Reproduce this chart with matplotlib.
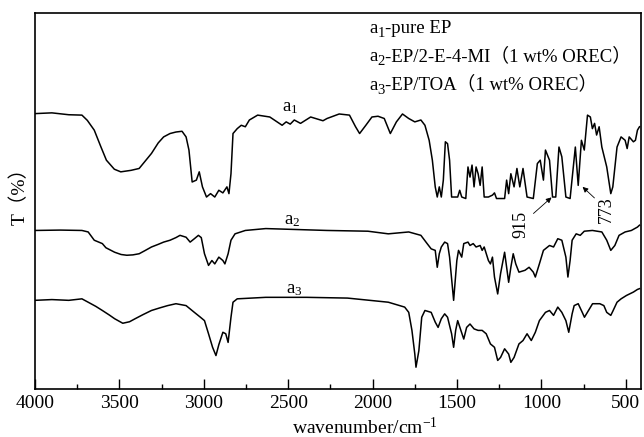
import matplotlib
matplotlib.use("Agg")
import matplotlib.pyplot as plt
from matplotlib.ticker import MultipleLocator

plt.rcParams['font.family'] = ['Liberation Serif', 'Noto Sans CJK SC']
plt.rcParams['mathtext.fontset'] = 'custom'
plt.rcParams['mathtext.rm'] = 'Liberation Serif'
plt.rcParams['mathtext.it'] = 'Liberation Serif'

# a1 - pure EP
wn_a1 = [4000, 3900, 3800, 3722, 3690, 3649, 3610, 3577, 3530, 3492,
         3431, 3383, 3350, 3310, 3270, 3238, 3200, 3165, 3129, 3105,
         3088, 3069, 3044, 3027, 3008, 2984, 2960, 2935, 2911, 2887,
         2863, 2851, 2839, 2827, 2802, 2778, 2754, 2730, 2681, 2609,
         2536, 2512, 2488, 2464, 2427, 2367, 2294, 2270, 2198, 2137,
         2101, 2077, 2040, 2004, 1968, 1931, 1895, 1859, 1823, 1786,
         1750, 1714, 1690, 1665, 1646, 1629, 1617, 1605, 1593, 1581,
         1569, 1556, 1544, 1532, 1496, 1484, 1472, 1448, 1435, 1423,
         1411, 1399, 1387, 1375, 1363, 1351, 1339, 1314, 1290, 1278,
         1266, 1218, 1206, 1194, 1181, 1162, 1145, 1128, 1109, 1085,
         1048, 1024, 1007, 988, 976, 952, 934, 915, 896, 879,
         855, 830, 799, 782, 763, 746, 727, 710, 698, 685,
         673, 658, 642, 613, 589, 577, 552, 528, 504, 492,
         480, 455, 443, 431, 419]
t_a1 = [73.3, 73.5, 73.0, 72.9, 71.5, 68.9, 64.5, 60.9, 58.5, 57.8,
        58.2, 58.7, 60.5, 62.7, 65.5, 67.1, 68.0, 68.4, 68.6, 67.1,
        63.6, 55.1, 55.6, 57.8, 53.8, 51.1, 52.0, 51.1, 52.9, 52.2,
        53.8, 52.0, 57.3, 68.0, 69.3, 70.2, 69.8, 71.6, 72.9, 72.4,
        70.2, 71.1, 70.5, 71.6, 70.7, 72.4, 71.4, 72.0, 73.2, 72.9,
        69.8, 68.0, 70.2, 72.4, 72.6, 72.0, 68.0, 71.1, 73.2, 72.0,
        71.1, 71.6, 70.2, 66.2, 60.9, 53.8, 51.1, 53.8, 51.1, 55.6,
        65.8, 65.3, 60.9, 51.1, 51.1, 52.9, 51.1, 50.7, 59.1, 56.4,
        59.6, 53.8, 59.1, 57.3, 54.2, 59.1, 51.1, 51.1, 51.6, 52.2,
        50.7, 50.7, 55.6, 52.0, 57.3, 53.8, 58.7, 53.8, 58.7, 51.1,
        50.7, 60.0, 60.9, 55.6, 63.6, 60.9, 51.1, 51.1, 64.4, 61.8,
        51.1, 50.7, 64.4, 54.2, 66.2, 63.6, 72.9, 72.4, 69.3, 70.7,
        67.6, 69.8, 64.4, 59.1, 52.0, 53.8, 64.4, 67.1, 66.2, 64.0,
        67.1, 65.8, 66.2, 68.9, 69.8]

# a2 - EP/2-E-4-MI
wn_a2 = [4000, 3850, 3722, 3685, 3649, 3601, 3580, 3528, 3490, 3456,
         3420, 3383, 3350, 3310, 3270, 3238, 3200, 3165, 3141, 3105,
         3081, 3056, 3032, 3015, 2996, 2972, 2952, 2935, 2911, 2887,
         2875, 2856, 2839, 2815, 2754, 2633, 2270, 2028, 1907, 1786,
         1714, 1677, 1653, 1629, 1617, 1605, 1593, 1573, 1556, 1544,
         1520, 1501, 1491, 1472, 1460, 1435, 1423, 1404, 1387, 1363,
         1351, 1339, 1314, 1302, 1290, 1278, 1259, 1242, 1218, 1206,
         1194, 1181, 1167, 1152, 1133, 1097, 1073, 1048, 1036, 1012,
         988, 952, 928, 903, 879, 855, 843, 830, 818, 794,
         770, 746, 698, 642, 613, 589, 565, 540, 504, 467,
         431, 419]
t_a2 = [42.2, 42.3, 42.2, 41.8, 39.6, 38.7, 37.6, 36.4, 35.8, 35.6,
        35.7, 36.0, 36.8, 37.8, 38.5, 39.1, 39.6, 40.3, 40.9, 40.4,
        39.1, 40.0, 40.9, 40.3, 36.0, 32.9, 34.2, 33.3, 35.1, 34.2,
        33.3, 36.0, 39.6, 41.3, 42.2, 42.7, 42.2, 42.0, 41.3, 41.8,
        40.9, 38.7, 37.3, 36.9, 32.4, 36.0, 37.8, 39.1, 38.7, 35.1,
        23.6, 34.2, 36.9, 35.1, 38.7, 39.1, 38.2, 38.7, 37.8, 38.2,
        36.9, 37.8, 34.2, 33.3, 35.1, 29.8, 25.3, 30.7, 36.4, 32.4,
        28.4, 32.4, 36.0, 33.3, 31.1, 31.6, 32.4, 31.1, 29.8, 33.3,
        36.9, 38.2, 37.8, 40.0, 39.6, 35.1, 29.8, 34.2, 39.6, 41.3,
        40.9, 42.0, 42.2, 41.8, 39.6, 36.9, 38.2, 40.9, 41.8, 42.2,
        43.1, 43.6]

# a3 - EP/TOA
wn_a3 = [4000, 3900, 3800, 3722, 3685, 3640, 3601, 3560, 3528, 3480,
         3440, 3407, 3360, 3310, 3260, 3214, 3165, 3105, 3056, 3020,
         2996, 2972, 2948, 2928, 2911, 2887, 2870, 2856, 2839, 2827,
         2802, 2633, 2391, 2149, 1907, 1810, 1786, 1767, 1750, 1743,
         1726, 1709, 1690, 1653, 1629, 1612, 1593, 1573, 1556, 1532,
         1520, 1508, 1496, 1477, 1460, 1443, 1423, 1399, 1375, 1351,
         1327, 1302, 1278, 1259, 1242, 1218, 1194, 1181, 1162, 1133,
         1109, 1085, 1060, 1036, 1012, 976, 952, 928, 903, 879,
         855, 838, 818, 806, 782, 758, 745, 721, 697, 654,
         630, 613, 589, 577, 552, 528, 496, 455, 431, 419]
t_a3 = [23.6, 23.8, 23.6, 24.0, 23.1, 22.0, 20.9, 19.7, 18.7, 17.5,
        17.9, 18.7, 19.8, 20.9, 21.6, 22.2, 22.7, 22.2, 20.4, 19.1,
        18.2, 14.7, 11.1, 8.9, 11.8, 15.1, 14.7, 12.4, 19.1, 23.1,
        24.0, 24.4, 24.4, 24.2, 23.1, 21.8, 20.4, 15.6, 9.3, 5.8,
        10.2, 19.1, 20.9, 20.4, 17.8, 16.4, 18.7, 20.0, 19.1, 14.7,
        11.1, 15.6, 18.2, 15.6, 13.3, 16.4, 17.3, 16.0, 15.6, 15.6,
        14.7, 12.0, 11.1, 7.6, 8.4, 10.7, 9.3, 7.1, 8.4, 12.0,
        12.9, 14.7, 12.9, 15.1, 18.2, 20.4, 20.9, 19.6, 21.8, 20.4,
        18.2, 15.1, 20.0, 22.2, 22.7, 20.4, 19.1, 20.9, 22.7, 22.7,
        22.2, 20.4, 19.6, 20.7, 23.1, 24.0, 24.9, 25.8, 26.5, 26.7]

# righe della legenda: (pedice, testo)
legend_sub = ['1', '2', '3']
legend_txt = ['-pure EP',
              '-EP/2-E-4-MI（1 wt% OREC）',
              '-EP/TOA（1 wt% OREC）']

fig = plt.figure(figsize=(6.44, 4.37), dpi=100)
ax = fig.add_axes([35/644, 1-389/437, 606/644, 375.7/437])

for wn, t in [(wn_a1, t_a1), (wn_a2, t_a2), (wn_a3, t_a3)]:
    ax.plot(wn, t, color='black', lw=1.1)

ax.set_xlim(4000, 410)
ax.set_ylim(0, 100)
ax.xaxis.set_major_locator(MultipleLocator(500))
ax.xaxis.set_minor_locator(MultipleLocator(250))
ax.tick_params(axis='x', which='major', direction='in', length=7, width=1, labelsize=14, pad=4)
ax.tick_params(axis='x', which='minor', direction='in', length=3.5, width=1)
ax.set_yticks([])
for s in ax.spines.values():
    s.set_linewidth(1.2)

# etichette delle curve
ax.text(2490, 72.6, 'a$_1$', fontsize=13.5, ha='center', va='bottom')
ax.text(2478, 42.6, 'a$_2$', fontsize=13.5, ha='center', va='bottom')
ax.text(2466, 24.3, 'a$_3$', fontsize=13.5, ha='center', va='bottom')

# legenda testuale: "a" + pedice + resto (il resto usa il fallback CJK per le parentesi)
for i in range(3):
    y = 96 - 7.55 * i
    t0 = ax.text(2022, y, 'a', fontsize=13.5, ha='left', va='center')
    t1 = ax.annotate(legend_sub[i], xy=(1, 0), xycoords=t0, fontsize=10.5,
                     ha='left', va='baseline')
    ax.annotate(legend_txt[i], xy=(1, 0), xycoords=(t1, t0), fontsize=13.5,
                ha='left', va='bottom')

# annotazioni 915 e 773
ax.annotate('915', xy=(940, 51.0), xytext=(1120, 43.8), fontsize=13, rotation=90,
            ha='center', va='center',
            arrowprops=dict(arrowstyle='-|>', color='black', lw=0.6, shrinkA=1, shrinkB=0, mutation_scale=8))
ax.annotate('773', xy=(756, 53.8), xytext=(613, 47.8), fontsize=13, rotation=90,
            ha='center', va='center',
            arrowprops=dict(arrowstyle='-|>', color='black', lw=0.6, shrinkA=1, shrinkB=0, mutation_scale=8))

fig.text(19.5/644, 1-191/437, 'T（%）', fontsize=14, rotation=90, ha='center', va='center')
fig.text(365/644, 3/437, 'wavenumber/cm$^{-1}$', fontsize=14, ha='center', va='baseline')

fig.savefig('out.png', dpi=100)
